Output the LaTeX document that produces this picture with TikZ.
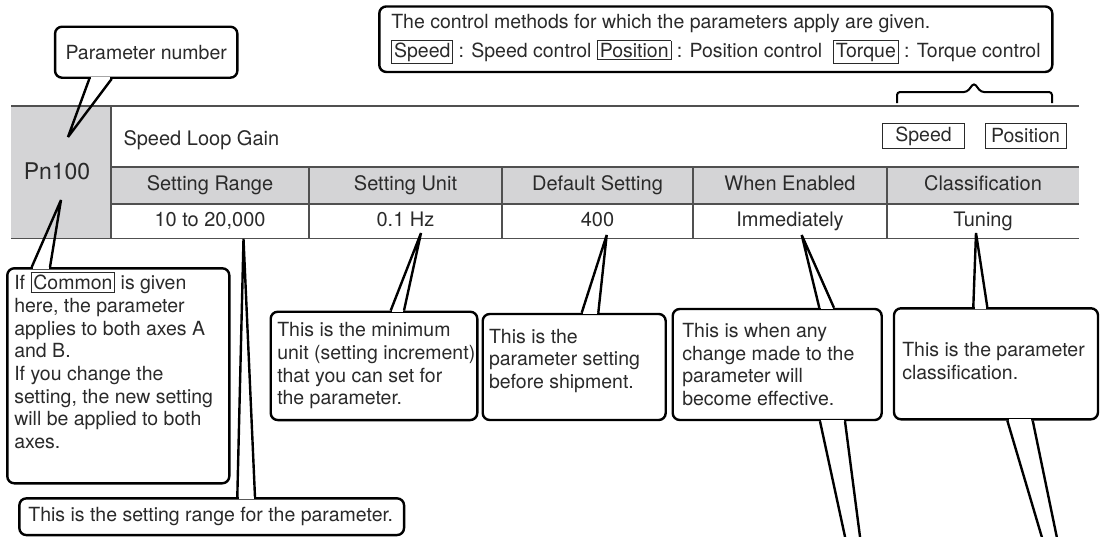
\documentclass[tikz,border=0pt]{standalone}
\usepackage{fontspec}
\setmainfont{TeX Gyre Heros}
\usetikzlibrary{calc,positioning}
\definecolor{ink}{HTML}{2A2A2A}
\definecolor{cellgray}{HTML}{D4D4D6}
\definecolor{rulegray}{HTML}{505050}

% small framed word inside a text
\newcommand\tagbox[1]{{\setlength\fboxsep{2pt}\setlength\fboxrule{0.8pt}\fbox{#1}}}
% tail of a callout: anchor, left shift, right shift, tip
\newcommand\calltail[4]{%
  \fill[white] ([xshift={#2+1.4},yshift=-1.6]#1) rectangle ([xshift={#3-1.4},yshift=1.6]#1);
  \draw[tailline] ([xshift=#2]#1) -- (#4) -- ([xshift=#3]#1);}

\begin{document}
\begin{tikzpicture}[x=1pt,y=-1pt,
                    every node/.style={font=\fontsize{19.5}{22.7}\selectfont, text=ink},
                    callout/.style={draw=black, line width=2.4pt, rounded corners=7pt, fill=white, inner sep=0pt},
                    txt/.style={align=left, inner sep=0pt, anchor=west},
                    cell/.style={font=\fontsize{20}{24}\selectfont, text height=14.5pt, text depth=4pt},
                    tag/.style={draw=ink, line width=0.8pt, inner xsep=2.5pt, inner ysep=2pt, minimum height=25pt},
                    tailline/.style={line width=2.4pt, black, miter limit=3},
                    tbl/.style={draw=rulegray, line width=1.1pt}]
  \clip (0,0) rectangle (1100,536);

  % table
  \fill[cellgray] (11,106) rectangle (111,238.5);
  \fill[cellgray] (111,167) rectangle (1079,204);
  \draw[tbl] (11,106) -- (1079,106);
  \draw[tbl] (111,167) -- (1079,167);
  \draw[tbl] (111,204) -- (1079,204);
  \draw[tbl] (11,238.5) -- (1079,238.5);
  \draw[tbl] (111,106) -- (111,238.5);
  \foreach \x in {309,502,693,887}
    \draw[tbl] (\x,167) -- (\x,238.5);

  \node[font=\fontsize{23}{26}\selectfont] (pn) at (57,171) {Pn100};
  \node[cell, anchor=west] (title) at (120,140) {Speed Loop Gain};
  \node[tag, minimum width=82pt] (spdtag) at (923.5,136) {Speed};
  \node[tag, minimum width=81pt] (postag) at (1025.5,136) {Position};

  \node[cell] (h1) at (210,185.7) {Setting Range};
  \node[cell] (h2) at (405.5,185.7) {Setting Unit};
  \node[cell] (h3) at (597.5,185.7) {Default Setting};
  \node[cell] (h4) at (790,185.7) {When Enabled};
  \node[cell] (h5) at (983,185.7) {Classification};
  \node[cell] (v1) at (210,221) {10 to 20,000};
  \node[cell] (v2) at (405.5,221) {0.1 Hz};
  \node[cell] (v3) at (597.5,221) {400};
  \node[cell] (v4) at (790,221) {Immediately};
  \node[cell] (v5) at (983,221) {Tuning};

  % brace over the tags
  \draw[line width=2pt, rounded corners=3pt] (897,103) -- (897,92) -- (967,92) -- (974,83) -- (981,92) -- (1052,92) -- (1052,103);

  % tips
  \coordinate (pnumTip) at (68,137);
  \coordinate (commonTip) at (61,200);
  \coordinate (rangeTip) at (243.5,239);
  \coordinate (unitTip) at (421,233);
  \coordinate (defTip) at (606.7,235);
  \coordinate (whenTip) at (801.7,235);
  \coordinate (whenLow) at (882.5,710);
  \coordinate (clsTip) at (976,233);
  \coordinate (clsLow) at (1091.3,704);

  % callouts
  \node[callout, minimum width=182.3pt, minimum height=51pt] (pnum) at (146.2,52.2) {};
  \node[callout, minimum width=673pt, minimum height=65.5pt] (meth) at (715.8,39.2) {};
  \node[callout, minimum width=222pt, minimum height=215pt] (common) at (118.3,375.8) {};
  \node[callout, minimum width=384.7pt, minimum height=36.7pt] (range) at (211.7,516.7) {};
  \node[callout, minimum width=206.6pt, minimum height=108.3pt] (unit) at (374,365.9) {};
  \node[callout, minimum width=183pt, minimum height=106pt] (deflt) at (574.2,367) {};
  \node[callout, minimum width=209pt, minimum height=111pt] (when) at (777.2,364.5) {};
  \node[callout, minimum width=204pt, minimum height=111pt] (cls) at (996,363.8) {};

  \calltail{pnum.south}{-56.9}{-34.5}{pnumTip}
  \calltail{common.north}{-86.6}{-68.3}{commonTip}
  \calltail{range.north}{25.6}{43.3}{rangeTip}
  \calltail{unit.north}{16.7}{30}{unitTip}
  \calltail{deflt.north}{7.5}{24.1}{defTip}
  \calltail{when.north}{42.1}{56.8}{whenTip}
  \calltail{when.south}{42.8}{67.8}{whenLow}
  \calltail{cls.north}{-22.7}{-8.7}{clsTip}
  \calltail{cls.south}{11.3}{36.7}{clsLow}

  % callout texts
  \node (pnumT) at (pnum) {Parameter number};
  \node[txt] (methT) at ([xshift=13]meth.west)
    {The control methods for which the parameters apply are given.\\[6pt]
     \tagbox{Speed} : Speed control \tagbox{Position} : Position control \ \tagbox{Torque} : Torque control};
  \node[txt, anchor=north west] (commonT) at ([xshift=8,yshift=-5]common.north west)
    {If \tagbox{Common} is given\\ here, the parameter\\ applies to both axes A\\ and B.\\
     If you change the\\ setting, the new setting\\ will be applied to both\\ axes.};
  \node[txt] (rangeT) at ([xshift=10]range.west) {This is the setting range for the parameter.};
  \node[txt] (unitT) at ([xshift=7.6]unit.west)
    {This is the minimum\\ unit (setting increment)\\ that you can set for\\ the parameter.};
  \node[txt] (defltT) at ([xshift=7.3,yshift=6]deflt.west)
    {This is the\\ parameter setting\\ before shipment.};
  \node[txt] (whenT) at ([xshift=10.6]when.west)
    {This is when any\\ change made to the\\ parameter will\\ become effective.};
  \node[txt] (clsT) at ([xshift=9.3,yshift=2.5]cls.west)
    {This is the parameter\\ classification.};
\end{tikzpicture}
\end{document}
